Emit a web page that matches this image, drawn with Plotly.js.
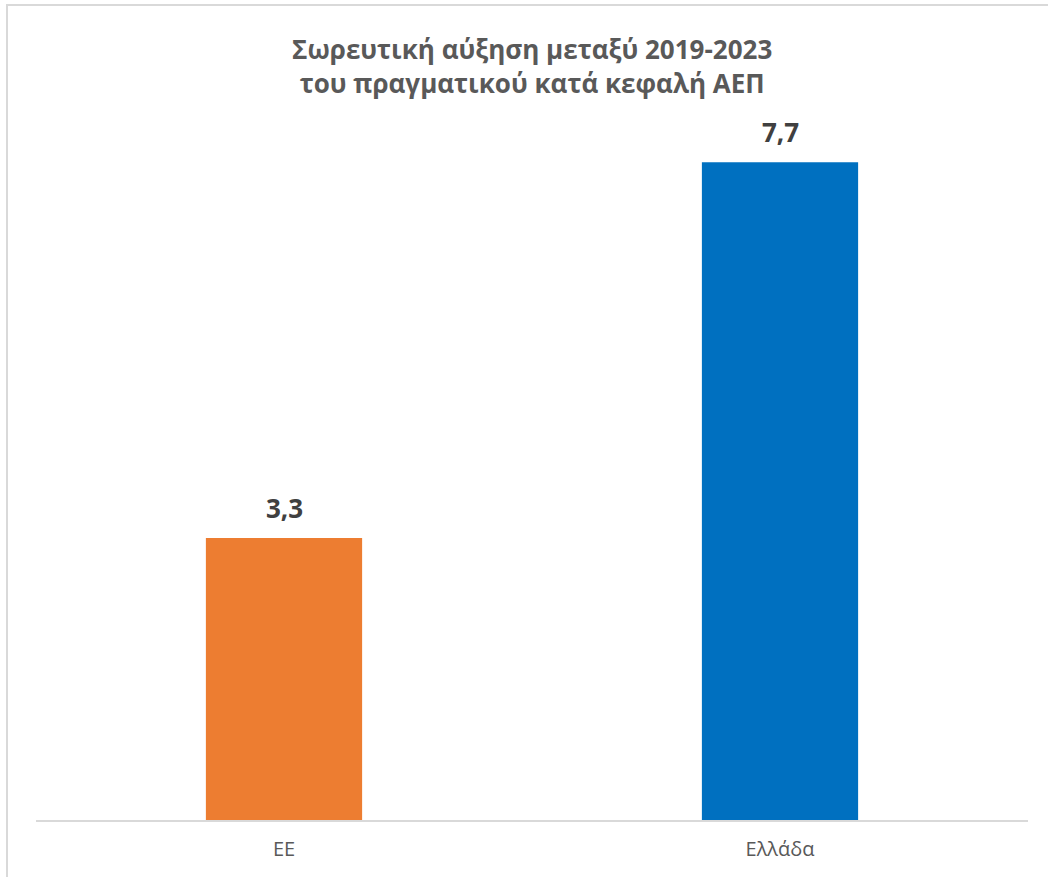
<!DOCTYPE html>
<html>
<head>
<meta charset="utf-8">
<script src="https://cdn.plot.ly/plotly-3.0.1.min.js"></script>
<style>
  html, body { margin: 0; padding: 0; background: #fff; }
  #wrap { position: relative; width: 1048px; height: 877px; }
  #chart { position: absolute; left: 0; top: 0; width: 1048px; height: 877px; }
  #frame { position: absolute; left: 6px; top: 4px; width: 1046px; height: 880px; border: 2px solid #d9d9d9; box-sizing: border-box; pointer-events: none; }
</style>
</head>
<body>
<div id="wrap">
  <div id="chart"></div>
  <div id="frame"></div>
</div>
<script>
const categories = ['EE', 'Ελλάδα'];
const values = [3.3, 7.7];
const barColors = ['#ED7D31', '#0070C0'];
const titleLines = ['Σωρευτική αύξηση μεταξύ 2019-2023', 'του πραγματικού κατά κεφαλή ΑΕΠ'];

const FIG_H = 877, MT = 140, MB = 57;
const plotH = FIG_H - MT - MB;
const pxToPaper = p => (FIG_H - MB - p) / plotH;

const trace = {
  type: 'bar',
  x: categories,
  y: values,
  marker: { color: barColors },
  width: 0.315,
  hoverinfo: 'skip'
};

const labelAnnotations = categories.map((c, i) => ({
  x: c,
  y: values[i],
  xref: 'x',
  yref: 'y',
  text: '<b>' + values[i].toFixed(1).replace('.', ',') + '</b>',
  showarrow: false,
  yanchor: 'bottom',
  yshift: 10,
  font: { family: 'Open Sans, sans-serif', size: 26, color: '#404040' }
}));

const titleAnnotation = {
  xref: 'paper',
  yref: 'paper',
  x: 0.5,
  y: pxToPaper(66),
  xanchor: 'center',
  yanchor: 'middle',
  text: '<b>' + titleLines.join('<br>') + '</b>',
  showarrow: false,
  font: { family: 'Open Sans, sans-serif', size: 26, color: '#595959' }
};

const layout = {
  width: 1048,
  height: FIG_H,
  margin: { l: 36, r: 20, t: MT, b: MB },
  paper_bgcolor: '#ffffff',
  plot_bgcolor: '#ffffff',
  showlegend: false,
  annotations: [titleAnnotation].concat(labelAnnotations),
  xaxis: {
    type: 'category',
    showline: true,
    linecolor: '#d9d9d9',
    linewidth: 2,
    ticks: '',
    ticklabelstandoff: 10,
    tickfont: { family: 'Open Sans, sans-serif', size: 20, color: '#595959' },
    showgrid: false,
    zeroline: false
  },
  yaxis: {
    range: [0, 7.96],
    visible: false,
    showgrid: false,
    zeroline: false
  }
};

Plotly.newPlot('chart', [trace], layout, { displayModeBar: false, staticPlot: true });
</script>
</body>
</html>
